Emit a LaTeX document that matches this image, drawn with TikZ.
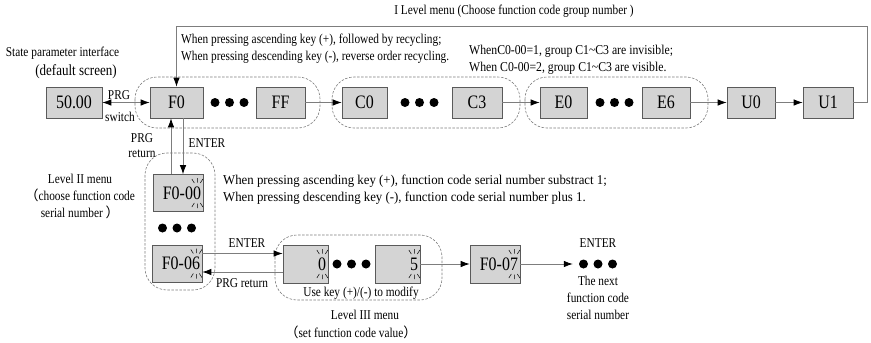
\documentclass[tikz,border=0pt]{standalone}
\usepackage{fontspec}
\setmainfont{Liberation Serif}[FakeStretch=0.84]
\newfontfamily\widefont{Liberation Serif}[FakeStretch=0.95]
\newfontfamily\midfont{Liberation Serif}[FakeStretch=0.87]
\newfontfamily\cjk{Noto Sans CJK SC}
\usetikzlibrary{arrows.meta}
\definecolor{boxgray}{RGB}{212,212,212}
\definecolor{edgegray}{RGB}{90,90,90}
\definecolor{linegray}{RGB}{125,125,125}
\begin{document}
\begin{tikzpicture}[x=1pt,y=-1pt,
  box/.style={draw=edgegray, line width=0.7pt, fill=boxgray, minimum height=31pt, inner sep=0pt, font=\fontsize{19}{19}\selectfont},
  lbox/.style={draw=edgegray, line width=0.7pt, fill=boxgray, minimum height=37pt, inner xsep=2pt, inner ysep=0pt, align=right, font=\fontsize{19}{19}\selectfont},
  grp/.style={draw=linegray, line width=0.6pt, dash pattern=on 2.5pt off 1.5pt, rounded corners=22pt},
  conn/.style={draw=linegray, line width=0.8pt, -{Latex[length=9pt,width=6.5pt,color=black]}},
  conn2/.style={draw=linegray, line width=0.8pt, {Latex[length=9pt,width=6.5pt,color=black]}-{Latex[length=9pt,width=6.5pt,color=black]}},
  txt/.style={inner sep=0pt, font=\fontsize{13.5}{17}\selectfont},
  dot/.style={circle, fill=black, inner sep=0pt, minimum size=9pt},
  blink/.pic={\draw[line width=0.5pt] (-3,-10)--(-5.5,-14) (0,-10.5)--(0,-15) (3,-10)--(5.5,-14)
      (-3,10)--(-5.5,14) (0,10.5)--(0,15) (3,10)--(5.5,14);}
]
\useasboundingbox (0,0) rectangle (871,343);
% dashed groups
\draw[grp] (135,77) rectangle (320,128);
\draw[grp] (332,77) rectangle (520,128);
\draw[grp] (525,77) rectangle (708,128);
\draw[grp] (145,153) rectangle (215,290);
\draw[grp] (275,235) rectangle (442,300);
% top row boxes
\node[box, minimum width=56pt] (s) at (74,102.5) {50.00};
\node[box, minimum width=53pt] (f0) at (176.5,102.5) {F0};
\node[box, minimum width=49pt] (ff) at (280.5,102.5) {FF};
\node[box, minimum width=45pt] (c0) at (364.5,102.5) {C0};
\node[box, minimum width=50pt] (c3) at (477,102.5) {C3};
\node[box, minimum width=47pt] (e0) at (563.5,102.5) {E0};
\node[box, minimum width=48pt] (e6) at (666,102.5) {E6};
\node[box, minimum width=48pt] (u0) at (751,102.5) {U0};
\node[box, minimum width=50pt] (u1) at (828,102.5) {U1};
% dots top row
\foreach \c/\n in {229.5/fd,419.5/cd,614.5/ed}{
  \node[dot] (\n1) at (\c-14.5,102.5) {};
  \node[dot] (\n2) at (\c,102.5) {};
  \node[dot] (\n3) at (\c+14.5,102.5) {};
}
% lower boxes
\node[lbox, text width=46pt] (f000) at (178,193) {F0-00};
\node[lbox, text width=46pt] (f006) at (177,263.5) {F0-06};
\node[lbox, text width=41pt, minimum height=38pt] (zero) at (305.5,264) {0};
\node[lbox, text width=41pt, minimum height=38pt] (five) at (397.5,264) {5};
\node[lbox, text width=46pt, minimum height=38pt] (f007) at (495,264) {F0-07};
\pic at ([xshift=-6pt]f000.east) {blink};
\pic at ([xshift=-6pt]f006.east) {blink};
\pic at ([xshift=-6pt]zero.east) {blink};
\pic at ([xshift=-6pt]five.east) {blink};
\pic at ([xshift=-6pt]f007.east) {blink};
% lower dots
\node[dot] (l2a) at (162.5,228) {};
\node[dot] (l2b) at (177,228) {};
\node[dot] (l2c) at (191.5,228) {};
\node[dot] (l3a) at (337,264) {};
\node[dot] (l3b) at (351.5,264) {};
\node[dot] (l3c) at (366,264) {};
\node[dot] (nxa) at (583.5,264) {};
\node[dot] (nxb) at (598,264) {};
\node[dot] (nxc) at (612.5,264) {};
% connectors
\draw[conn2] (s.east) -- (f0.west);
\draw[conn] (ff.east) -- (c0.west);
\draw[conn] (c3.east) -- (e0.west);
\draw[conn] (e6.east) -- (u0.west);
\draw[conn] (u0.east) -- (u1.west);
\coordinate (fbR) at (867,26);
\coordinate (fbL) at (f0.north |- fbR);
\draw[conn] (u1.east) -| (fbR) -- (fbL) -- (f0.north);
\draw[conn] ([xshift=-5.5pt]f0.south |- f000.north) -- ([xshift=-5.5pt]f0.south);
\draw[conn] ([xshift=6.5pt]f0.south) -- ([xshift=6.5pt]f0.south |- f000.north);
\draw[conn] ([yshift=10pt]f006.east) -- ([yshift=10pt]f006.east -| zero.west);
\draw[conn] ([yshift=-8.5pt]f006.east -| zero.west) -- ([yshift=-8.5pt]f006.east);
\draw[conn] (five.east) -- (f007.west);
\draw[conn] (f007.east) -- ([xshift=-6pt]nxa.west);
% texts
\node[txt] (title) at (514,11) {I Level menu (Choose function code group number )};
\node[txt, anchor=west, align=left] (note1) at (181,48.5) {When pressing ascending key (+), followed by recycling;\\When pressing descending key (-), reverse order recycling.};
\node[txt, anchor=west, align=left, font=\midfont\fontsize{13.5}{17}\selectfont] (note2) at (469,60) {WhenC0-00=1, group C1\textasciitilde C3 are invisible;\\When C0-00=2, group C1\textasciitilde C3 are visible.};
\node[txt] (state) at (62.5,53) {State parameter interface};
\node[txt, font=\fontsize{15.5}{18}\selectfont] (deflt) at (76,72) {(default screen)};
\node[txt] (prg1) at (119,95) {PRG};
\node[txt] (sw) at (120,117) {switch};
\node[txt] (prg2) at (142,138) {PRG};
\node[txt] (ret) at (142,154) {return};
\node[txt] (ent1) at (207,143) {ENTER};
\node[txt, align=center] (l2) at (80,196) {Level II menu\\{\cjk （}choose function code\\serial number {\cjk ）}};
\node[txt, anchor=west, align=left, font=\widefont\fontsize{13.5}{17}\selectfont] (note3) at (223,190) {When pressing ascending key (+), function code serial number substract 1;\\When pressing descending key (-), function code serial number plus 1.};
\node[txt] (ent2) at (247,243) {ENTER};
\node[txt] (prg3) at (242,283) {PRG return};
\node[txt] (use) at (361,293) {Use key (+)/(-) to modify};
\node[txt] (lv3a) at (365,315) {Level III menu};
\node[txt] (lv3b) at (351,332) {{\cjk （}set function code value{\cjk ）}};
\node[txt] (ent3) at (598,243) {ENTER};
\node[txt, align=center] (nxt) at (598,298) {The next\\function code\\serial number};
\end{tikzpicture}
\end{document}
